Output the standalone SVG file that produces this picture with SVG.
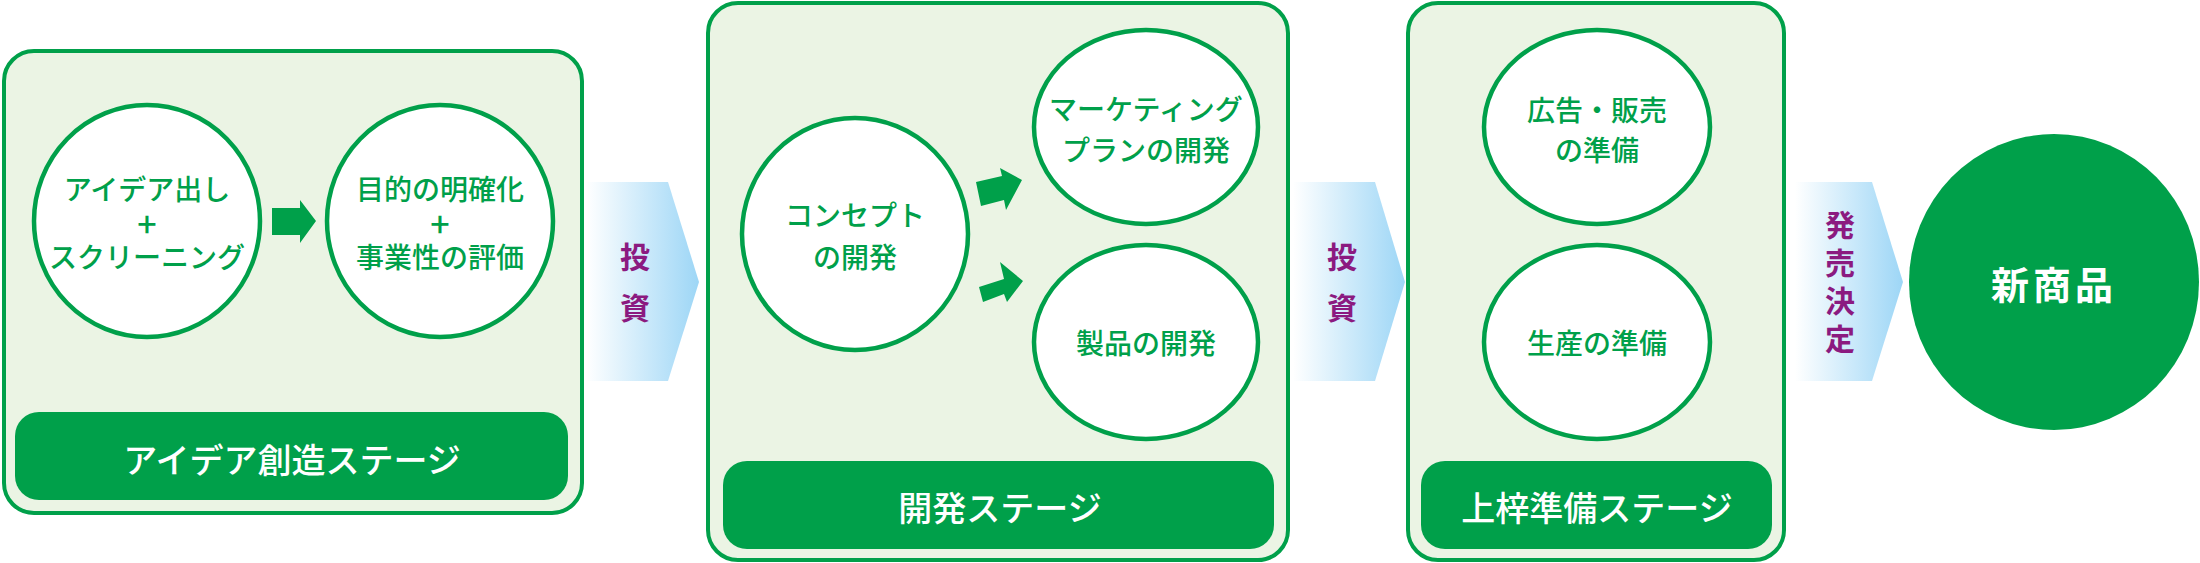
<svg xmlns="http://www.w3.org/2000/svg" width="2200" height="563" viewBox="0 0 2200 563">
<defs>
<linearGradient id="bl" x1="0" y1="0" x2="1" y2="0"><stop offset="0" stop-color="#ffffff"/><stop offset="1" stop-color="#9dd6f6"/></linearGradient>
<style>
.box{fill:#ebf4e4;stroke:#00a04a;stroke-width:4}
.bar{fill:#00a04a}
.c{fill:#fff;stroke:#00a04a;stroke-width:4.5}
.t{font-family:"Noto Sans CJK JP",sans-serif;font-size:28px;font-weight:500;fill:#00a04a;text-anchor:middle;dominant-baseline:central}
.bt{font-family:"Noto Sans CJK JP",sans-serif;font-size:34px;font-weight:500;fill:#fff;text-anchor:middle;dominant-baseline:central}
.p{font-family:"Noto Sans CJK JP",sans-serif;font-size:30px;font-weight:bold;fill:#8b1a80;text-anchor:middle;dominant-baseline:central}
.ga{fill:#00a04a}
</style>
</defs>
<g id="stage1">
<rect class="box" x="4" y="51" width="578" height="462" rx="30"/>
<rect class="bar" x="15" y="412" width="553" height="88" rx="24"/>
<text class="bt" x="292" y="458">アイデア創造ステージ</text>
</g>
<g id="idea">
<ellipse class="c" cx="147" cy="221" rx="113" ry="116"/>
<text class="t" x="147" y="188">アイデア出し</text><text class="t" x="147" y="222" style="font-size:34px">+</text><text class="t" x="147" y="256">スクリーニング</text>
</g>
<g id="eval">
<ellipse class="c" cx="440" cy="221" rx="113" ry="116"/>
<text class="t" x="440" y="188">目的の明確化</text><text class="t" x="440" y="222" style="font-size:34px">+</text><text class="t" x="440" y="256">事業性の評価</text>
</g>
<g id="stage2">
<rect class="box" x="708" y="3" width="580" height="557" rx="30"/>
<rect class="bar" x="723" y="461" width="551" height="88" rx="24"/>
<text class="bt" x="1000" y="506">開発ステージ</text>
</g>
<g id="concept">
<ellipse class="c" cx="855" cy="234" rx="113" ry="116"/>
<text class="t" x="855" y="214">コンセプト</text><text class="t" x="855" y="256">の開発</text>
</g>
<g id="marketing">
<ellipse class="c" cx="1146" cy="127" rx="112" ry="97"/>
<text class="t" x="1146" y="108">マーケティング</text><text class="t" x="1146" y="149">プランの開発</text>
</g>
<g id="product">
<ellipse class="c" cx="1146" cy="342" rx="112" ry="97"/>
<text class="t" x="1146" y="342">製品の開発</text>
</g>
<g id="stage3">
<rect class="box" x="1408" y="3" width="376" height="557" rx="30"/>
<rect class="bar" x="1421" y="461" width="351" height="88" rx="24"/>
<text class="bt" x="1597" y="506">上梓準備ステージ</text>
</g>
<g id="ad">
<ellipse class="c" cx="1597" cy="127" rx="113" ry="97"/>
<text class="t" x="1597" y="109">広告・販売</text><text class="t" x="1597" y="149">の準備</text>
</g>
<g id="prod">
<ellipse class="c" cx="1597" cy="342" rx="113" ry="97"/>
<text class="t" x="1597" y="342">生産の準備</text>
</g>
<g id="new">
<ellipse cx="2054" cy="282" rx="145" ry="148" fill="#00a04a"/>
<text class="bt" x="2054" y="282" style="font-size:38px;font-weight:bold;letter-spacing:4px">新商品</text>
</g>
<g id="connectors">
<polygon class="ga" points="272,208 300,208 300,200 316,221 300,243 300,235 272,235"/>
<polygon class="ga" points="976,182 1002,176 1000,168 1022,180 1006,210 1004,200 981,206"/>
<polygon class="ga" points="979,287 1004,279 1000,262 1023,281 1007,302 1004,294 983,302"/>
<polygon fill="url(#bl)" points="586,182 668,182 699,282 668,381 586,381"/>
<polygon fill="url(#bl)" points="1293,182 1375,182 1405,282 1375,381 1293,381"/>
<polygon fill="url(#bl)" points="1795,182 1872,182 1903,282 1872,381 1795,381"/>
<text class="p" x="635" y="255">投</text><text class="p" x="635" y="306">資</text>
<text class="p" x="1342" y="255">投</text><text class="p" x="1342" y="306">資</text>
<text class="p" x="1840" y="223">発</text><text class="p" x="1840" y="261">売</text><text class="p" x="1840" y="299">決</text><text class="p" x="1840" y="337">定</text>
</g>
</svg>
